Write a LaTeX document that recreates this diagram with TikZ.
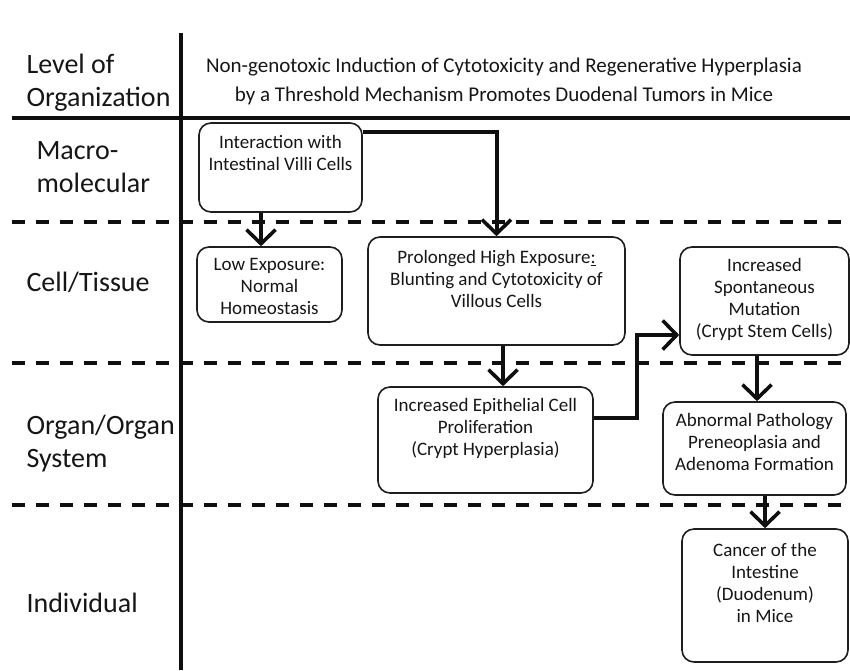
\documentclass[tikz,border=0pt]{standalone}
\usepackage{fontspec}
\setmainfont{Carlito}
\usetikzlibrary{arrows.meta}
\definecolor{ink}{RGB}{15, 15, 15}
\definecolor{boxline}{RGB}{30, 30, 30}
\definecolor{textgrey}{RGB}{22, 22, 22}

% text of a stage box: height, width, gap above the first line, lines
\newcommand{\stagetext}[4]{\parbox[c][#1pt][t]{#2pt}{\centering\vspace*{#3pt}#4\par}}

\begin{document}
\begin{tikzpicture}[x=1pt, y=-1pt,
        stage/.style={draw=boxline, line width=1.6pt, rounded corners=12pt, inner sep=0pt,
                      text=textgrey, font=\fontsize{19}{22}\selectfont},
        flow/.style={draw=ink, line width=4pt,
                     -{Straight Barb[length=14pt, width=29pt, line width=3.6pt]}},
        level/.style={anchor=base west, align=left, text=textgrey, font=\fontsize{28}{33}\selectfont},
        gridline/.style={draw=ink, line width=3.8pt},
        divider/.style={draw=ink, line width=3.8pt, dash pattern=on 13pt off 11pt}]

    \useasboundingbox (0,0) rectangle (850,670);

    % table frame: header rule, level column and the dashed borders between levels
    \draw[gridline] (12,118) -- (850,118);
    \draw[gridline] (181,33) -- (181,670);
    \foreach \y in {222, 363, 505} {
        \draw[divider] (12,\y) -- (850,\y);
    }

    % level names in the first column (base = last line)
    \node[level] (lvlhead)  at (23,106) {Level of\\Organization};
    \node[level] (lvlmacro) at (33,192) {Macro-\\molecular};
    \node[level] (lvlcell)  at (23,291) {Cell/Tissue};
    \node[level] (lvlorgan) at (23,467) {Organ/Organ\\System};
    \node[level] (lvlindiv) at (23,612) {Individual};

    % heading of the second column
    \node[anchor=base, align=center, text=textgrey, font=\fontsize{21}{29}\selectfont] (title) at (504,101)
        {Non-genotoxic Induction of Cytotoxicity and Regenerative Hyperplasia\\
         by a Threshold Mechanism Promotes Duodenal Tumors in Mice};

    % stages, placed at the centres of their boxes
    \node[stage] (inter) at (280.5,167.5) {\stagetext{89}{163}{12}{Interaction with\\Intestinal Villi Cells}};
    \node[stage] (low)   at (269.5,284.5) {\stagetext{75}{145}{11}{Low Exposure:\\Normal\\Homeostasis}};
    \node[stage] (prol)  at (496.5,291)   {\stagetext{108}{257}{13}{Prolonged High Exposure\underline{:}\\Blunting and Cytotoxicity of\\Villous Cells}};
    \node[stage] (spon)  at (764.5,301)   {\stagetext{108}{169}{11}{Increased\\Spontaneous\\Mutation\\(Crypt Stem Cells)}};
    \node[stage] (epi)   at (485.5,440)   {\stagetext{106}{215}{11}{Increased Epithelial Cell\\Proliferation\\(Crypt Hyperplasia)}};
    \node[stage] (abn)   at (754.5,448.5) {\stagetext{93}{183}{11}{Abnormal Pathology\\Preneoplasia and\\Adenoma Formation}};
    \node[stage] (canc)  at (765,595.5)   {\stagetext{133}{166}{14}{Cancer of the\\Intestine\\(Duodenum)\\in Mice}};

    % connectors
    \draw[flow] ([yshift=-10pt]inter.north east) -| (prol.north);
    \draw[flow] ([xshift=-8.5pt]low.north |- inter.south) -- ([xshift=-8.5pt]low.north);
    \draw[flow] ([xshift=6.5pt]prol.south) -- ([xshift=6.5pt]prol.south |- epi.north);
    \coordinate (jog) at (637,0);
    \draw[flow] ([yshift=22pt]epi.east) -| ([yshift=-34pt]spon.west -| jog) -- ([yshift=-34pt]spon.west);
    \draw[flow] ([xshift=-7.5pt]spon.south) -- ([xshift=-7.5pt]spon.south |- abn.north);
    \draw[flow] (canc.north |- abn.south) -- (canc.north);
\end{tikzpicture}
\end{document}
